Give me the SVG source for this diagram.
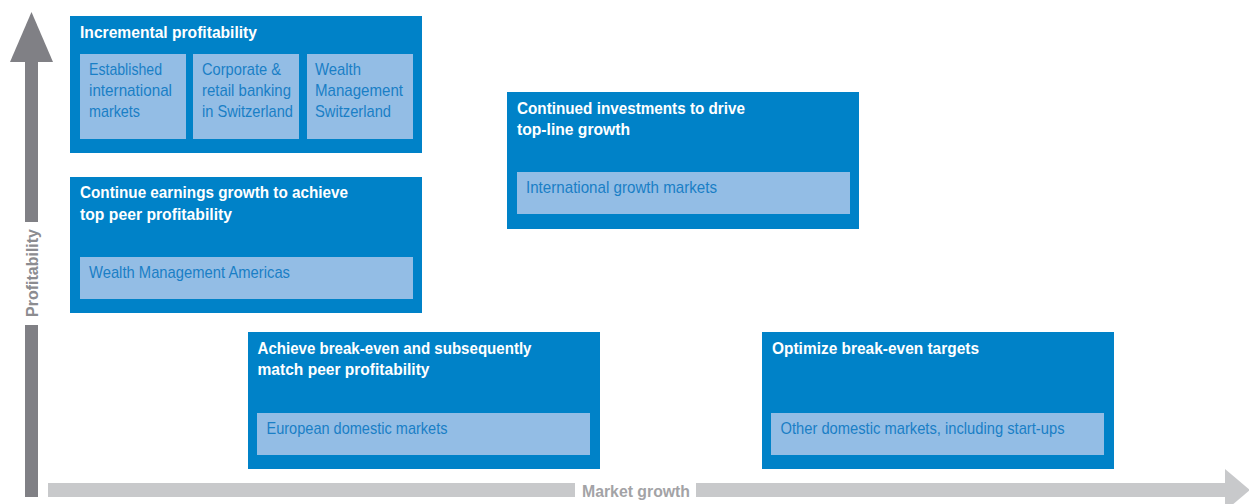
<svg xmlns="http://www.w3.org/2000/svg" width="1249" height="504" viewBox="0 0 1249 504">
<style>
.box{fill:#0082c8}
.inner{fill:#93bde5}
.t{font-family:"Liberation Sans",Arial,sans-serif;font-weight:bold;font-size:17px;fill:#ffffff}
.i{font-family:"Liberation Sans",Arial,sans-serif;font-size:17px;fill:#1a7fc6}
.ax{font-family:"Liberation Sans",Arial,sans-serif;font-weight:bold;font-size:16px}
</style>
<rect width="1249" height="504" fill="#ffffff"/>
<g id="axes">
  <polygon points="10,62 31.5,12 53,62" fill="#808085"/>
  <rect x="25" y="61" width="13" height="161" fill="#808085"/>
  <rect x="25" y="325" width="13" height="172" fill="#808085"/>
  <text class="ax" transform="translate(38,317) rotate(-90)" fill="#8c8c90" textLength="88" lengthAdjust="spacingAndGlyphs">Profitability</text>
  <rect x="48" y="483" width="527" height="14" fill="#c8c9cb"/>
  <rect x="696" y="483" width="530" height="14" fill="#c8c9cb"/>
  <polygon points="1225,469 1250,490 1225,511" fill="#c8c9cb"/>
  <text class="ax" x="582" y="497" fill="#a3a3a6" textLength="108" lengthAdjust="spacingAndGlyphs">Market growth</text>
</g>
<g id="incremental">
  <rect class="box" x="70" y="16" width="352" height="137"/>
  <text class="t" x="80" y="37.5" textLength="177" lengthAdjust="spacingAndGlyphs">Incremental profitability</text>
  <rect class="inner" x="80" y="54" width="106" height="85"/>
  <rect class="inner" x="193" y="54" width="106" height="85"/>
  <rect class="inner" x="307" y="54" width="106" height="85"/>
  <text class="i" x="89" y="75" textLength="73" lengthAdjust="spacingAndGlyphs">Established</text>
  <text class="i" x="89" y="96" textLength="83" lengthAdjust="spacingAndGlyphs">international</text>
  <text class="i" x="89" y="117" textLength="51" lengthAdjust="spacingAndGlyphs">markets</text>
  <text class="i" x="202" y="75" textLength="79" lengthAdjust="spacingAndGlyphs">Corporate &amp;</text>
  <text class="i" x="202" y="96" textLength="89" lengthAdjust="spacingAndGlyphs">retail banking</text>
  <text class="i" x="202" y="117" textLength="91" lengthAdjust="spacingAndGlyphs">in Switzerland</text>
  <text class="i" x="315" y="75" textLength="46" lengthAdjust="spacingAndGlyphs">Wealth</text>
  <text class="i" x="315" y="96" textLength="88" lengthAdjust="spacingAndGlyphs">Management</text>
  <text class="i" x="315" y="117" textLength="76" lengthAdjust="spacingAndGlyphs">Switzerland</text>
</g>
<g id="continue-earnings">
  <rect class="box" x="70" y="177" width="352" height="136"/>
  <text class="t" x="80" y="198" textLength="268" lengthAdjust="spacingAndGlyphs">Continue earnings growth to achieve</text>
  <text class="t" x="80" y="219.5" textLength="152" lengthAdjust="spacingAndGlyphs">top peer profitability</text>
  <rect class="inner" x="80" y="257" width="333" height="42"/>
  <text class="i" x="89" y="278" textLength="201" lengthAdjust="spacingAndGlyphs">Wealth Management Americas</text>
</g>
<g id="continued-investments">
  <rect class="box" x="507" y="92" width="352" height="137"/>
  <text class="t" x="517" y="113.5" textLength="228" lengthAdjust="spacingAndGlyphs">Continued investments to drive</text>
  <text class="t" x="517" y="135" textLength="113" lengthAdjust="spacingAndGlyphs">top-line growth</text>
  <rect class="inner" x="517" y="172" width="333" height="42"/>
  <text class="i" x="526" y="193" textLength="191" lengthAdjust="spacingAndGlyphs">International growth markets</text>
</g>
<g id="break-even">
  <rect class="box" x="248" y="332" width="352" height="137"/>
  <text class="t" x="257.5" y="354" textLength="274" lengthAdjust="spacingAndGlyphs">Achieve break-even and subsequently</text>
  <text class="t" x="257.5" y="375" textLength="172" lengthAdjust="spacingAndGlyphs">match peer profitability</text>
  <rect class="inner" x="257" y="413" width="333" height="42"/>
  <text class="i" x="266.5" y="433.5" textLength="181" lengthAdjust="spacingAndGlyphs">European domestic markets</text>
</g>
<g id="optimize">
  <rect class="box" x="762" y="332" width="352" height="137"/>
  <text class="t" x="772" y="354" textLength="207" lengthAdjust="spacingAndGlyphs">Optimize break-even targets</text>
  <rect class="inner" x="771" y="413" width="333" height="42"/>
  <text class="i" x="780.5" y="433.5" textLength="284" lengthAdjust="spacingAndGlyphs">Other domestic markets, including start-ups</text>
</g>
</svg>
